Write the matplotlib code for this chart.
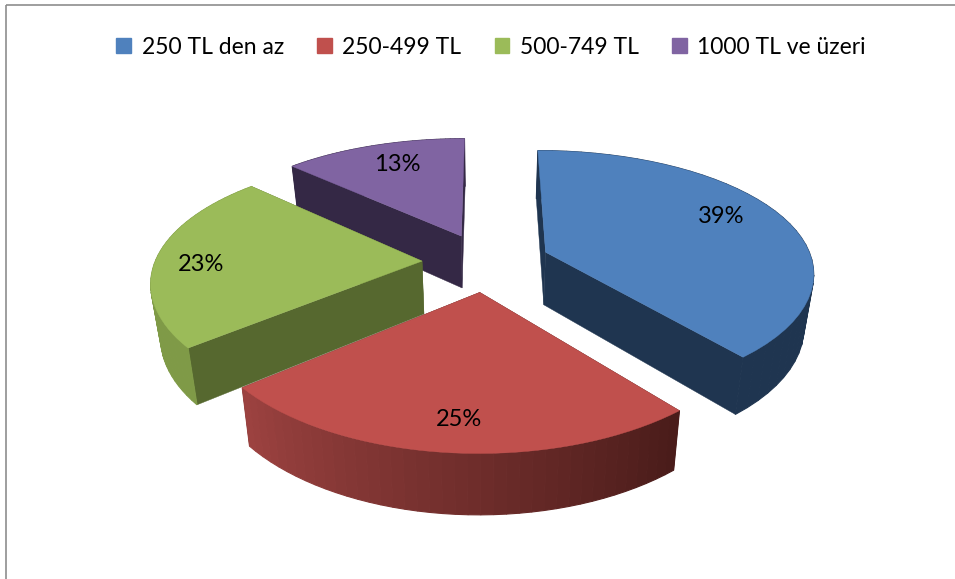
import numpy as np
import matplotlib
matplotlib.use('Agg')
import matplotlib.pyplot as plt
from matplotlib.patches import Patch, Rectangle
from matplotlib.colors import to_rgb

labels = ['250 TL den az', '250-499 TL', '500-749 TL', '1000 TL ve üzeri']
values = [39, 25, 23, 13]
pct_labels = ['39%', '25%', '23%', '13%']

top_colors = ['#4F81BD', '#C0504D', '#9BBB59', '#8064A2']
cut_colors = ['#1F3550', '#4A1C1A', '#56682F', '#342845']
rim_start = ['#1F3550', '#4A1C1A', '#7F9A47', '#342845']
rim_end = ['#1F3550', '#9C4240', '#7F9A47', '#342845']

plt.rcParams['font.family'] = ['Lato', 'DejaVu Sans']

# perspective of the disc, in pixels
cx, cy = 486, 262
rx, ry = 267, 122
persp_x = 0.15
persp_y = 0.17
depth = 53
shrink = 0.97
explode = 0.24
label_r = [0.76, 0.80, 0.82, 0.76]
label_shift = [(-4, -6), (4, 4), (-3, 7), (4, -1)]


def project(X, Y, low=False):
    wx = 1 + persp_x * Y
    wy = 1 + persp_y * Y
    px = rx * X / wx
    py = ry * Y / wy
    if low:
        px = px * shrink
        py = py * shrink - depth / wy
    return cx + px, cy - py


fig = plt.figure(figsize=(9.55, 5.79), dpi=100)
ax = fig.add_axes([0, 0, 1, 1])
ax.set_xlim(0, 955)
ax.set_ylim(579, 0)
ax.axis('off')

ax.add_patch(Rectangle((6, 5), 1100, 700, fill=False, ec='#8E8E8E', lw=1.2))

total = float(sum(values))
edges = np.concatenate([[0], np.cumsum(values)]) / total * 2 * np.pi
wedges = []
for i in range(len(values)):
    a0, a1 = edges[i], edges[i + 1]
    mid = (a0 + a1) / 2
    ox, oy = explode * np.sin(mid), explode * np.cos(mid)
    wedges.append((i, a0, a1, mid, ox, oy))

# back to front
for i, a0, a1, mid, ox, oy in [wedges[3], wedges[2], wedges[0], wedges[1]]:
    t = np.linspace(a0, a1, 40)
    X = ox + np.sin(t)
    Y = oy + np.cos(t)
    # cut faces
    for a in (a0, a1):
        ex, ey = ox + np.sin(a), oy + np.cos(a)
        p = [project(ox, oy), project(ex, ey), project(ex, ey, True), project(ox, oy, True)]
        ax.fill([q[0] for q in p], [q[1] for q in p], color=cut_colors[i], lw=0.3, zorder=2)
    # rim, shaded along its length
    c0, c1 = np.array(to_rgb(rim_start[i])), np.array(to_rgb(rim_end[i]))
    for k in range(len(t) - 1):
        p = [project(X[k], Y[k]), project(X[k + 1], Y[k + 1]),
             project(X[k + 1], Y[k + 1], True), project(X[k], Y[k], True)]
        f = k / (len(t) - 2)
        ax.fill([q[0] for q in p], [q[1] for q in p], color=c0 + (c1 - c0) * f, lw=0.8, zorder=2)
    # top face
    tx, ty = project(X, Y)
    ax0, ay0 = project(ox, oy)
    ax.fill(np.append(tx, ax0), np.append(ty, ay0), color=top_colors[i], lw=0.3, zorder=2)

for i, a0, a1, mid, ox, oy in wedges:
    lx, ly = project(ox + label_r[i] * np.sin(mid), oy + label_r[i] * np.cos(mid))
    ax.text(lx + label_shift[i][0], ly + label_shift[i][1], pct_labels[i], ha='center', va='center',
            fontsize=17, color='black', zorder=3)

handles = [Patch(color=c, label=l) for c, l in zip(top_colors, labels)]
ax.legend(handles=handles, ncol=4, loc='center', bbox_to_anchor=(491 / 955, 1 - 47 / 579),
          frameon=False, fontsize=16.5, handlelength=0.65, handleheight=0.65,
          handletextpad=0.45, columnspacing=1.45, borderpad=0)

fig.savefig('out.png', dpi=100)
